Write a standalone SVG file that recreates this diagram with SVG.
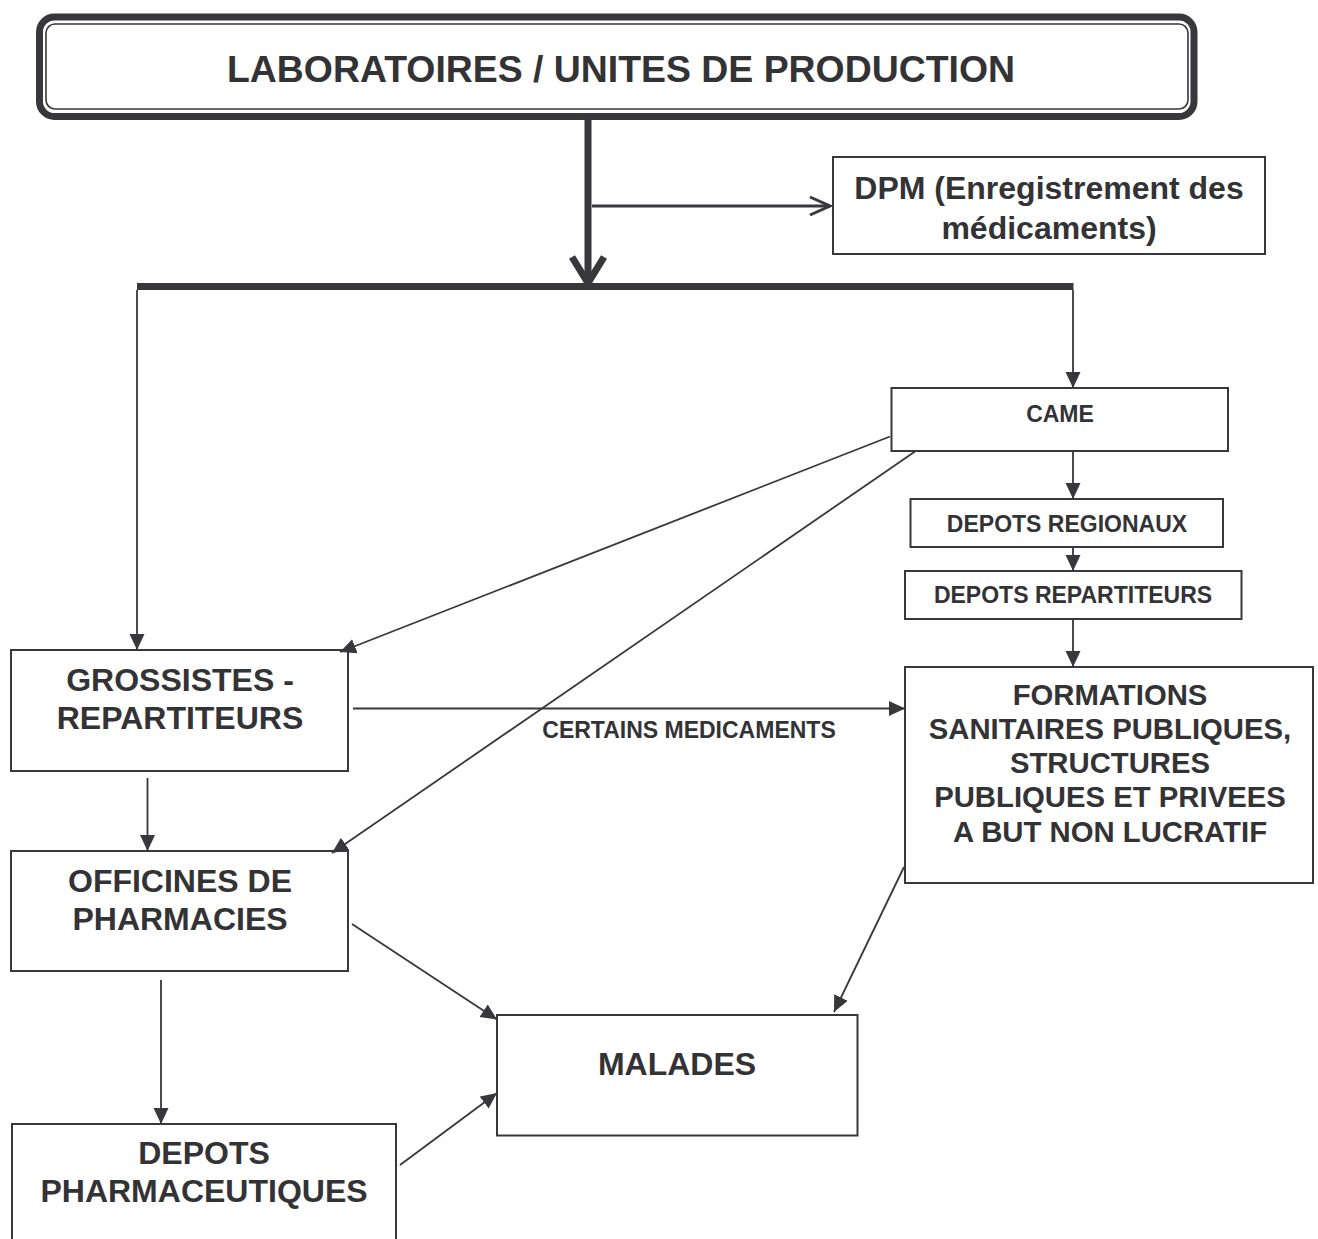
<svg xmlns="http://www.w3.org/2000/svg" width="1318" height="1239" viewBox="0 0 1318 1239">
<style>
  .box { fill: #ffffff; stroke: #38383c; stroke-width: 2; }
  .t { font-family: "Liberation Sans", Arial, sans-serif; font-weight: bold; fill: #333336; text-anchor: middle; }
  .t32 { font-size: 32px; }
  .t29 { font-size: 29.3px; }
  .t23 { font-size: 23px; }
  .c { fill: none; stroke: #38383c; stroke-width: 1.8; }
  .thick { fill: none; stroke: #38383c; stroke-width: 7; }
</style>
<defs>
  <marker id="ah" markerUnits="userSpaceOnUse" markerWidth="17" markerHeight="17" viewBox="0 0 17 16" refX="16" refY="7.5" orient="auto">
    <path d="M0,0 L16,7.5 L0,15 z" fill="#38383c"/>
  </marker>
</defs>
<rect width="1318" height="1239" fill="#ffffff"/>

<g id="labos">
  <rect x="39.5" y="17" width="1154.5" height="99.5" rx="15" ry="15" fill="#ffffff" stroke="#38383c" stroke-width="7"/>
  <rect x="46" y="24" width="1142" height="85" rx="9" ry="9" fill="none" stroke="#38383c" stroke-width="1.6"/>
  <text class="t" x="621" y="82" font-size="37.4">LABORATOIRES / UNITES DE PRODUCTION</text>
</g>

<g id="dpm">
  <rect class="box" x="833" y="157" width="432" height="97"/>
  <text class="t t32" x="1049" y="199">DPM (Enregistrement des</text>
  <text class="t t32" x="1049" y="239">médicaments)</text>
</g>

<g id="came">
  <rect class="box" x="891.5" y="388" width="336.5" height="63"/>
  <text class="t t23" x="1060" y="422">CAME</text>
</g>

<g id="depots-regionaux">
  <rect class="box" x="910.5" y="499" width="312.5" height="48"/>
  <text class="t t23" x="1067" y="532">DEPOTS REGIONAUX</text>
</g>

<g id="depots-repartiteurs">
  <rect class="box" x="905" y="571" width="336.5" height="48"/>
  <text class="t t23" x="1073" y="603">DEPOTS REPARTITEURS</text>
</g>

<g id="formations">
  <rect class="box" x="905" y="667" width="408" height="216"/>
  <text class="t t29" x="1110" y="705">FORMATIONS</text>
  <text class="t t29" x="1110" y="739">SANITAIRES PUBLIQUES,</text>
  <text class="t t29" x="1110" y="773">STRUCTURES</text>
  <text class="t t29" x="1110" y="807">PUBLIQUES ET PRIVEES</text>
  <text class="t t29" x="1110" y="842">A BUT NON LUCRATIF</text>
</g>

<g id="grossistes">
  <rect class="box" x="11" y="650" width="337" height="121"/>
  <text class="t t32" x="180" y="691">GROSSISTES -</text>
  <text class="t t32" x="180" y="729">REPARTITEURS</text>
</g>

<g id="officines">
  <rect class="box" x="11" y="851" width="337" height="120"/>
  <text class="t t32" x="180" y="892">OFFICINES DE</text>
  <text class="t t32" x="180" y="930">PHARMACIES</text>
</g>

<g id="depots-pharmaceutiques">
  <rect class="box" x="12" y="1124" width="384" height="130"/>
  <text class="t t32" x="204" y="1164">DEPOTS</text>
  <text class="t t32" x="204" y="1202">PHARMACEUTIQUES</text>
</g>

<g id="malades">
  <rect class="box" x="497" y="1015" width="360.5" height="120.5"/>
  <text class="t t32" x="677" y="1075">MALADES</text>
</g>

<g id="connectors">
  <line class="thick" x1="588" y1="120" x2="588" y2="287"/>
  <polyline class="thick" points="572,257 588,283 604,257" stroke-linejoin="miter"/>
  <line class="thick" x1="137" y1="286.5" x2="1073.5" y2="286.5"/>
  <line x1="592" y1="206" x2="830" y2="206" stroke="#38383c" stroke-width="3"/>
  <polyline points="810,197 830,206 810,215" fill="none" stroke="#38383c" stroke-width="3"/>
  <line class="c" x1="137" y1="290" x2="137" y2="650" marker-end="url(#ah)"/>
  <line class="c" x1="1073" y1="290" x2="1073" y2="388" marker-end="url(#ah)"/>
  <line class="c" x1="1073" y1="451" x2="1073" y2="499" marker-end="url(#ah)"/>
  <line class="c" x1="1073" y1="547" x2="1073" y2="571" marker-end="url(#ah)"/>
  <line class="c" x1="1073" y1="619" x2="1073" y2="667" marker-end="url(#ah)"/>
  <line class="c" x1="890" y1="436.5" x2="340" y2="652" marker-end="url(#ah)"/>
  <line class="c" x1="915" y1="451.5" x2="332" y2="853" marker-end="url(#ah)"/>
  <line class="c" x1="353" y1="708.5" x2="905" y2="708.5" marker-end="url(#ah)"/>
  <text class="t t23" x="689" y="738">CERTAINS MEDICAMENTS</text>
  <line class="c" x1="147.5" y1="778" x2="147.5" y2="851" marker-end="url(#ah)"/>
  <line class="c" x1="161" y1="980" x2="161" y2="1124" marker-end="url(#ah)"/>
  <line class="c" x1="352" y1="924" x2="497" y2="1019.5" marker-end="url(#ah)"/>
  <line class="c" x1="400" y1="1165" x2="497" y2="1093" marker-end="url(#ah)"/>
  <line class="c" x1="904" y1="867" x2="834" y2="1012" marker-end="url(#ah)"/>
</g>
</svg>
